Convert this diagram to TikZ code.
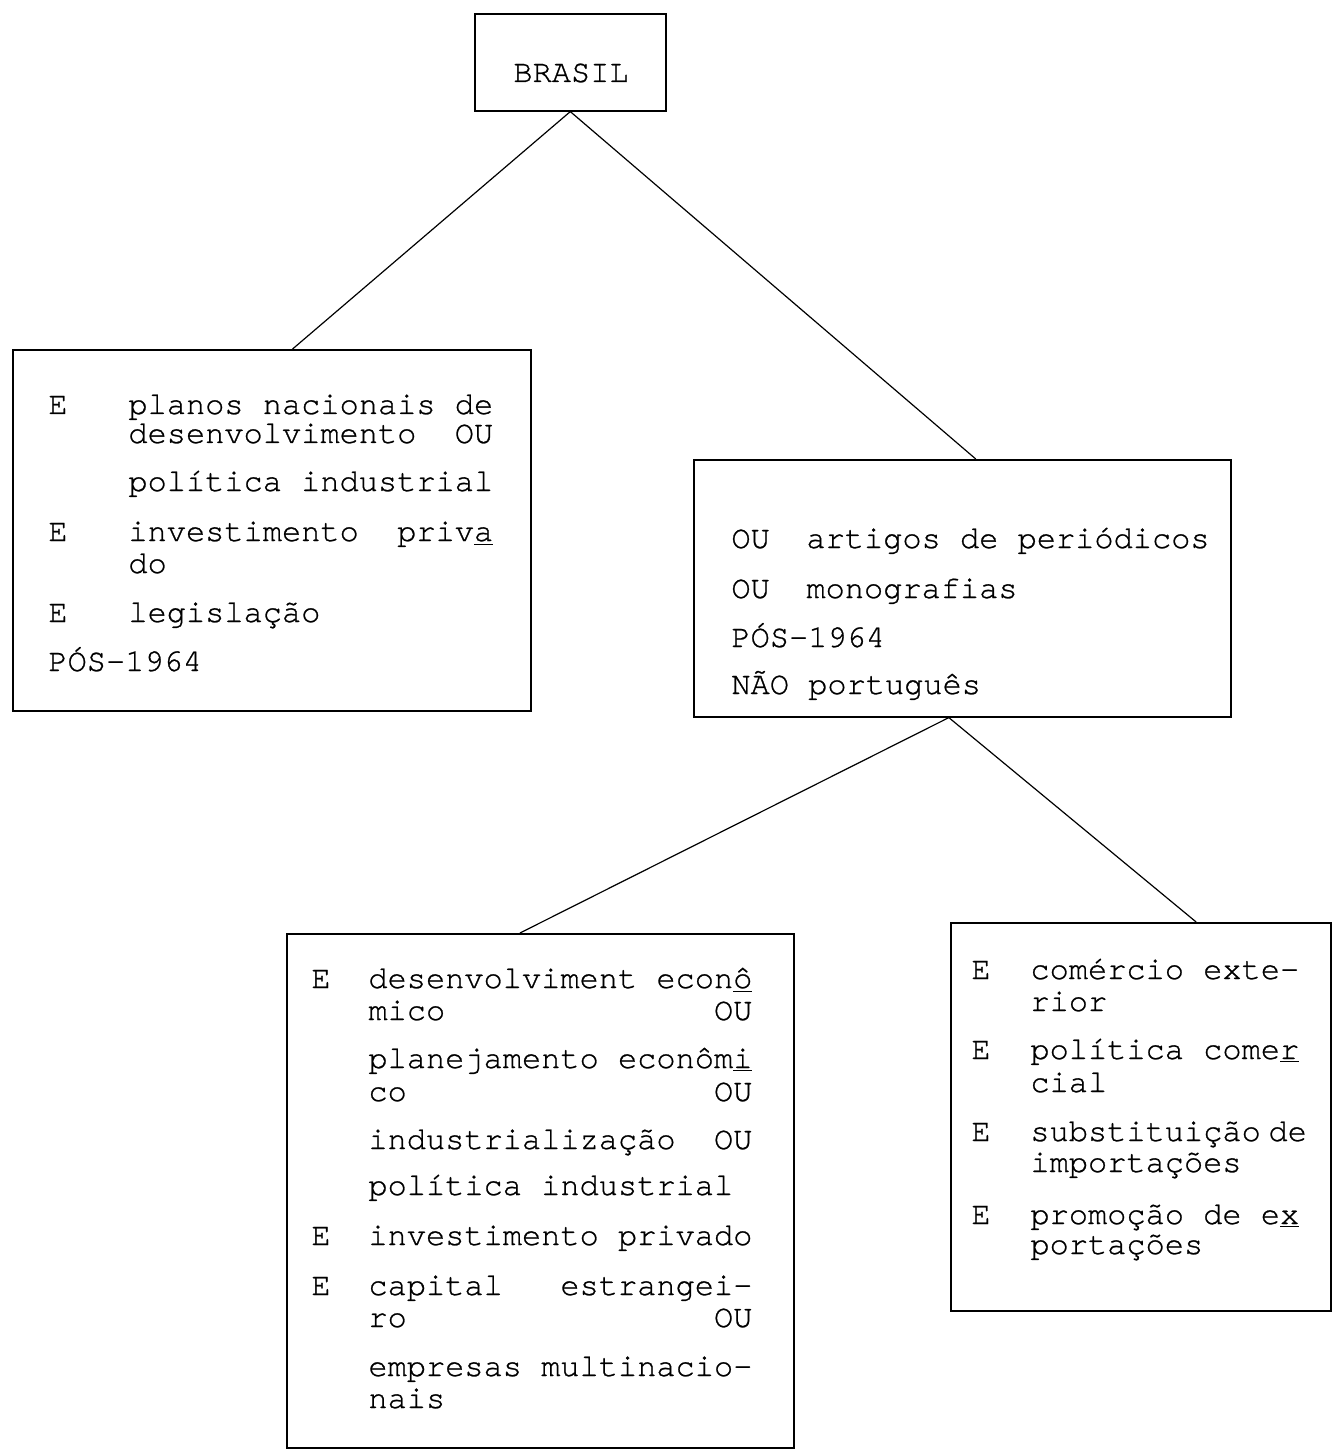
\documentclass[tikz,border=0pt]{standalone}
\usepackage{fontspec}
\setmonofont{texgyrecursor}[Extension=.otf, UprightFont=*-regular,
  Ligatures={NoCommon}, FakeBold=0.8]
\usepackage{tikz}
\usetikzlibrary{calc}
\newlength\charw
\setlength\charw{9.6pt}
\newcommand\tgap[1]{\hspace*{#1\charw}}

\begin{document}
\begin{tikzpicture}[x=0.5pt,y=-0.5pt,
  box/.style={draw, line width=0.8pt, inner sep=0pt, anchor=north west},
  txt/.style={inner sep=0pt, anchor=base west, font=\ttfamily\fontsize{16}{16}\selectfont},
  link/.style={line width=0.6pt}]
  \useasboundingbox (0,0) rectangle (1335,1454);

  %% Top box
  \node[box, minimum width=95.5pt, minimum height=48.5pt] (BRASIL) at (474,13) {};
  \node[txt] (BRASILt) at (513,82) {BRASIL};

  %% Left box: planos nacionais
  \node[box, minimum width=259pt, minimum height=180.5pt] (PLANOS) at (12,349) {};
  \foreach \y/\t in {414/E, 541/E, 622/E, 671/PÓS-1964}
    \node[txt] (PLp\y) at (48,\y) {\t};
  \foreach \y/\t in {414/planos nacionais de, 443/desenvolvimento\tgap{2}OU,
                     491/política industrial, 541/investimento\tgap{2}priv\underline{a},
                     573/do, 622/legislação}
    \node[txt] (PLt\y) at (128,\y) {\t};

  %% Right box: artigos
  \node[box, minimum width=268.5pt, minimum height=128.5pt] (ARTIGOS) at (693,459) {};
  \foreach \y/\t in {548/OU, 598/OU, 647/PÓS-1964, 694/NÃO português}
    \node[txt] (ARp\y) at (731,\y) {\t};
  \foreach \y/\t in {548/artigos de periódicos, 598/monografias}
    \node[txt] (ARt\y) at (806,\y) {\t};

  %% Lower left box: desenvolvimento
  \node[box, minimum width=253.5pt, minimum height=257pt] (DESENV) at (286,933) {};
  \foreach \y/\t in {988/E, 1245/E, 1295/E}
    \node[txt] (DEp\y) at (311,\y) {\t};
  \foreach \y/\t in {988/desenvolviment econ\underline{ô}, 1020/mico\tgap{14}OU,
                     1068/planejamento econôm\underline{i}, 1101/co\tgap{16}OU,
                     1149/industrialização\tgap{2}OU, 1195/política industrial,
                     1245/investimento privado, 1295/capital\tgap{3}estrangei-,
                     1327/ro\tgap{16}OU, 1376/empresas multinacio-, 1408/nais}
    \node[txt] (DEt\y) at (368,\y) {\t};

  %% Lower right box: comercio exterior
  \node[box, minimum width=190pt, minimum height=194pt] (COMEXT) at (950,922) {};
  \foreach \y/\t in {979/E, 1059/E, 1141/E, 1224/E}
    \node[txt] (COp\y) at (971,\y) {\t};
  \foreach \y/\t in {979/comércio exte-, 1011/rior, 1059/política come\underline{r},
                     1092/cial, 1141/substituição\tgap{0.4}de, 1172/importações,
                     1224/promoção de e\underline{x}, 1254/portações}
    \node[txt] (COt\y) at (1030,\y) {\t};

  %% Connectors
  \coordinate (ARs) at ($(ARTIGOS.south west)!0.475!(ARTIGOS.south east)$);
  \draw[link] (BRASIL.south) -- ($(PLANOS.north west)!0.54!(PLANOS.north east)$);
  \draw[link] (BRASIL.south) -- ($(ARTIGOS.north west)!0.525!(ARTIGOS.north east)$);
  \draw[link] (ARs) -- ($(DESENV.north west)!0.46!(DESENV.north east)$);
  \draw[link] (ARs) -- ($(COMEXT.north west)!0.645!(COMEXT.north east)$);

\end{tikzpicture}
\end{document}
